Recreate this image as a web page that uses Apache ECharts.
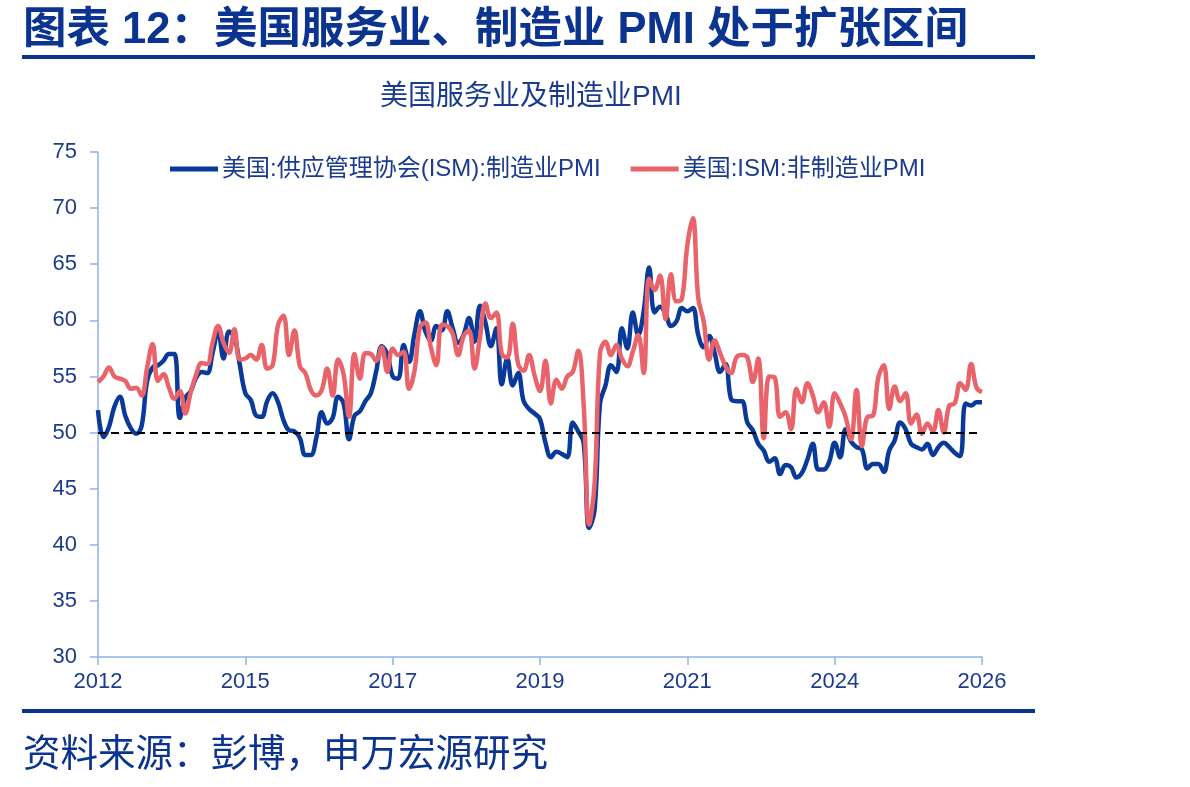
<!DOCTYPE html>
<html>
<head>
<meta charset="utf-8">
<script src="https://cdn.jsdelivr.net/npm/echarts@6/dist/echarts.min.js"></script>
<style>
  html, body { margin: 0; padding: 0; background: #fff; }
  #chart { width: 1190px; height: 787px; }
</style>
</head>
<body>
<div id="chart"></div>
<script>
// 月度数据: 2012-10 ~ 2026-04
const startYear = 2012
const startMonth = 10
const xTickLabels = ['2012', '2015', '2017', '2019', '2021', '2024', '2026']
const labelStep = 27

// 美国:供应管理协会(ISM):制造业PMI
const mfgPMI = [
  52.0, 49.6, 50.5,
  52.3, 53.2, 51.5, 50.4, 49.9, 50.6, 54.6, 55.8, 56.0, 56.4, 57.0, 57.0,
  51.3, 53.1, 53.7, 54.9, 55.4, 55.3, 57.1, 59.0, 56.6, 59.0, 58.5, 56.0,
  53.5, 52.9, 51.5, 51.4, 52.8, 53.5, 52.7, 51.1, 50.2, 50.1, 49.5, 48.0,
  48.0, 49.5, 51.8, 50.8, 51.3, 53.2, 52.6, 49.4, 51.5, 51.9, 52.8, 53.5,
  55.5, 57.7, 57.0, 55.0, 54.8, 57.8, 56.3, 58.8, 60.8, 59.0, 58.2, 59.5,
  59.1, 60.8, 59.3, 58.0, 58.7, 60.2, 58.1, 61.3, 59.8, 57.7, 59.3, 54.3,
  56.6, 54.2, 55.3, 52.8, 52.1, 51.7, 51.2, 49.1, 47.8, 48.3, 48.1, 47.8,
  50.9, 50.1, 49.1, 41.5, 43.1, 52.6, 54.2, 56.0, 55.4, 59.3, 57.5, 60.7,
  58.7, 60.8, 64.7, 60.7, 61.2, 60.6, 59.5, 59.9, 61.1, 60.8, 61.1, 58.7,
  57.6, 58.6, 57.1, 55.4, 56.1, 53.0, 52.8, 52.8, 50.9, 50.2, 49.0, 48.4,
  47.4, 47.7, 46.3, 47.1, 46.9, 46.0, 46.4, 47.6, 49.0, 46.7, 46.7, 47.4,
  49.1, 47.8, 50.3, 49.2, 48.7, 48.5, 46.8, 47.2, 47.2, 46.5, 48.4, 49.3,
  50.9, 50.3, 49.0, 48.7, 48.5, 49.0, 48.0, 48.7, 49.1, 48.7, 48.2, 47.9,
  52.6, 52.4, 52.7, 52.7
]

// 美国:ISM:非制造业PMI
const svcPMI = [
  54.5, 55.0, 55.8,
  55.0, 54.8, 54.6, 53.9, 54.0, 53.3, 55.8, 57.9, 54.6, 55.2, 54.0, 53.0,
  53.7, 51.7, 53.6, 55.2, 56.2, 56.1, 58.0, 59.5, 58.0, 57.1, 59.2, 56.5,
  56.6, 56.9, 56.5, 57.8, 55.7, 56.0, 59.6, 60.4, 56.9, 59.1, 55.9, 55.3,
  53.8, 53.3, 53.8, 55.7, 53.3, 56.5, 55.2, 51.4, 57.0, 54.8, 57.1, 57.0,
  56.4, 57.6, 55.4, 57.5, 56.9, 57.2, 53.9, 55.5, 59.4, 59.8, 57.6, 56.0,
  59.6, 59.5, 58.8, 56.9, 58.6, 59.1, 55.7, 58.5, 61.5, 60.2, 60.7, 57.0,
  56.7, 59.7, 56.1, 55.5, 56.9, 55.1, 53.7, 56.4, 52.6, 54.7, 53.9, 55.0,
  55.4, 57.3, 52.5, 41.8, 45.4, 57.1, 58.1, 56.9, 57.8, 56.6, 55.9, 57.2,
  58.7, 55.3, 63.7, 62.7, 64.0, 60.1, 64.1, 61.7, 61.9, 66.7, 69.1, 62.0,
  59.9, 56.5, 58.2, 57.1, 55.9, 55.3, 56.7, 56.9, 56.7, 54.5, 56.6, 49.5,
  55.0, 54.9, 51.4, 51.8, 50.3, 53.9, 52.7, 54.4, 53.3, 51.8, 52.7, 50.5,
  53.5, 52.6, 51.4, 49.4, 53.8, 48.8, 51.4, 51.5, 54.9, 56.0, 52.1, 54.1,
  52.8, 53.5, 50.8, 51.6, 49.9, 50.8, 50.1, 52.0, 50.0, 52.4, 52.6, 54.4,
  53.8, 56.1, 54.0, 53.6
]

const months = []
for (let i = 0; i < mfgPMI.length; i++) {
  const m = startMonth - 1 + i
  const y = startYear + Math.floor(m / 12)
  months.push(y + '-' + String((m % 12) + 1).padStart(2, '0'))
}

const navy = '#0b3491'
const textBlue = '#1b3c8e'
const axisBlue = '#8db3e2'
const latinCjk = '"Liberation Sans", "Noto Sans CJK SC", sans-serif'

const chart = echarts.init(document.getElementById('chart'))
chart.setOption({
  animation: false,
  backgroundColor: '#fff',
  title: [
    {
      text: '图表 12：美国服务业、制造业 PMI 处于扩张区间',
      left: 18,
      top: 4,
      textStyle: { fontSize: 43.5, fontWeight: 'bold', color: navy, fontFamily: latinCjk }
    },
    {
      text: '美国服务业及制造业PMI',
      left: 375,
      top: 78,
      textStyle: { fontSize: 28, fontWeight: 'normal', color: textBlue, fontFamily: latinCjk }
    },
    {
      text: '资料来源：彭博，申万宏源研究',
      left: 18,
      top: 732,
      textStyle: { fontSize: 37.5, fontWeight: 'normal', color: navy, fontFamily: latinCjk }
    }
  ],
  graphic: [
    { type: 'rect', left: 22, top: 55, shape: { width: 1013, height: 4 }, style: { fill: navy } },
    { type: 'rect', left: 22, top: 709, shape: { width: 1013, height: 4 }, style: { fill: navy } }
  ],
  legend: {
    left: 170,
    top: 157,
    padding: 0,
    icon: 'rect',
    itemWidth: 48,
    itemHeight: 5,
    itemGap: 30,
    textStyle: { fontSize: 24, color: textBlue, fontFamily: latinCjk, padding: [0, 0, 0, -1] },
    data: ['美国:供应管理协会(ISM):制造业PMI', '美国:ISM:非制造业PMI']
  },
  grid: { left: 98, right: 208, top: 152, bottom: 130, containLabel: false },
  xAxis: {
    type: 'category',
    data: months,
    boundaryGap: false,
    axisLine: { lineStyle: { color: axisBlue, width: 1.5 } },
    axisTick: { show: true, interval: labelStep - 1, length: 8, lineStyle: { color: axisBlue, width: 1.5 } },
    axisLabel: {
      interval: labelStep - 1,
      margin: 14,
      fontSize: 22,
      color: textBlue,
      fontFamily: latinCjk,
      formatter: (val, idx) => xTickLabels[Math.round(idx / labelStep)]
    },
    splitLine: { show: false }
  },
  yAxis: {
    type: 'value',
    min: 30,
    max: 75,
    interval: 5,
    axisLine: { show: true, lineStyle: { color: axisBlue, width: 1.5 } },
    axisTick: { show: true, length: 8, lineStyle: { color: axisBlue, width: 1.5 } },
    axisLabel: { margin: 21, fontSize: 22, color: textBlue, fontFamily: latinCjk },
    splitLine: { show: false }
  },
  series: [
    {
      name: '美国:供应管理协会(ISM):制造业PMI',
      type: 'line',
      data: mfgPMI,
      smooth: 0.4,
      symbol: 'none',
      color: '#0a3a99',
      lineStyle: { width: 4.5, color: '#0a3a99' },
      markLine: {
        silent: true,
        symbol: ['none', 'none'],
        label: { show: false },
        lineStyle: { color: '#000', type: [8, 5], width: 2 },
        data: [{ yAxis: 50 }]
      }
    },
    {
      name: '美国:ISM:非制造业PMI',
      type: 'line',
      data: svcPMI,
      smooth: 0.4,
      symbol: 'none',
      color: '#e8646a',
      lineStyle: { width: 4.5, color: '#e8646a' }
    }
  ]
})
</script>
</body>
</html>
